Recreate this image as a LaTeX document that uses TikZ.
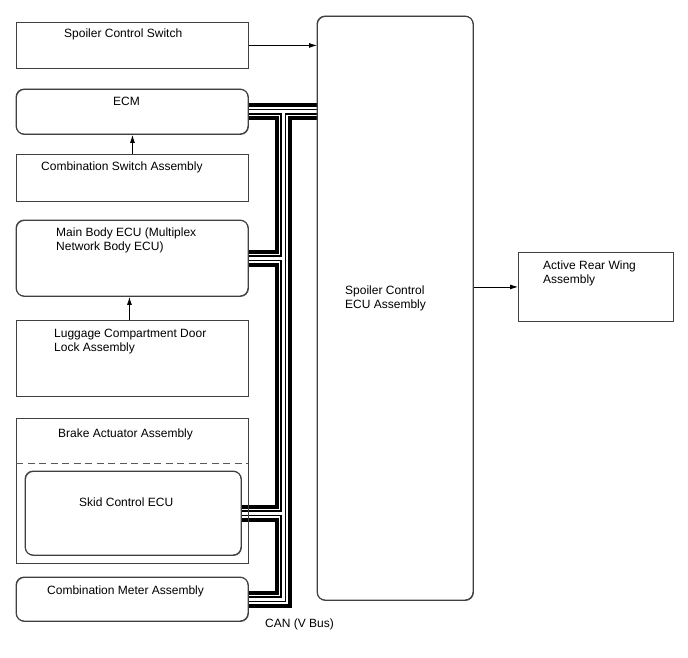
\documentclass[tikz,border=0pt]{standalone}
\usepackage{fontspec}
\setmainfont{Liberation Sans}
\usetikzlibrary{arrows.meta}
\begin{document}
\begin{tikzpicture}[x=1pt,y=-1pt,
  box/.style={draw=black!75, line width=0.9pt, inner sep=0pt, anchor=north west},
  rbox/.style={box, rounded corners=8pt},
  lbl/.style={anchor=base west, inner sep=0pt, font=\fontsize{12}{14}\selectfont},
  arr/.style={-{Latex[length=8pt,width=5pt]}, line width=0.8pt, draw=black},
  outl/.style={draw=black!75, line width=0.9pt},
  ]
\useasboundingbox (0,0) rectangle (688,658);

% ---- boxes (shapes only, no text) ----
\node[box,  minimum width=232pt, minimum height=46pt] (sw)   at (16,22)  {};
\node[rbox, minimum width=232pt, minimum height=45pt] (ecm)  at (16,89)  {};
\node[box,  minimum width=232pt, minimum height=47pt] (csw)  at (16,154) {};
\node[rbox, minimum width=232pt, minimum height=76pt] (mb)   at (16,220) {};
\node[box,  minimum width=232pt, minimum height=76pt] (lug)  at (16,320) {};
\node[box,  minimum width=232pt, minimum height=145pt] (brk) at (16,418) {};
\node[rbox, minimum width=216pt, minimum height=84pt] (skid) at (25,471) {};
\node[rbox, minimum width=232pt, minimum height=44pt] (cm)   at (16,577) {};
\node[rbox, minimum width=156pt, minimum height=584pt] (secu) at (317,16) {};
\node[box,  minimum width=155pt, minimum height=69pt] (arw)  at (518,252) {};

% ---- CAN bus (layered strokes) ----
\coordinate (tr) at (283,0);
\coordinate (bj) at (ecm.east -| tr);
\coordinate (bc) at (cm.east -| tr);
\foreach \w/\c in {17/black, 9/white, 6/black, 3/white} {
  \draw[line width=\w pt, draw=\c, line join=miter, line cap=butt]
    (ecm.east) -- (ecm.east -| secu.west)
    (bj) -- (bc) -- (cm.east)
    (mb.east) -- (mb.east -| tr)
    (skid.east) -- (skid.east -| tr);
}

% redraw box outlines on top
\draw[outl] (16,22) rectangle (248,68);
\draw[outl, rounded corners=8pt] (16,89) rectangle (248,134);
\draw[outl, rounded corners=8pt] (16,220) rectangle (248,296);
\draw[outl] (16,418) rectangle (248,563);
\draw[outl, rounded corners=8pt] (25,471) rectangle (241,555);
\draw[outl, rounded corners=8pt] (16,577) rectangle (248,621);
\draw[outl, rounded corners=8pt] (317,16) rectangle (473,600);

% dashed divider in brake actuator
\coordinate (dl) at (16,463);
\coordinate (dr) at (248,463);
\draw[draw=black!65, line width=0.9pt, dash pattern=on 7pt off 4.5pt] (dl) -- (dr);

% ---- arrows ----
\draw[arr] (sw.east) -- (sw.east -| secu.west);
\draw[arr] (csw.north) -- (ecm.south);
\draw[arr] ([xshift=-3pt]lug.north) -- ([xshift=-3pt]lug.north |- mb.south);
\draw[arr] (arw.west -| secu.east) -- (arw.west);

% ---- labels ----
\node[lbl] (t1) at (64,38) {Spoiler Control Switch};
\node[lbl] (t2) at (113,106) {ECM};
\node[lbl] (t3) at (41,171) {Combination Switch Assembly};
\node[lbl] (t4a) at (56,236) {Main Body ECU (Multiplex};
\node[lbl] (t4b) at (56,250) {Network Body ECU)};
\node[lbl] (t5a) at (54,337) {Luggage Compartment Door};
\node[lbl] (t5b) at (54,351) {Lock Assembly};
\node[lbl] (t6) at (58,437) {Brake Actuator Assembly};
\node[lbl] (t7) at (79,506) {Skid Control ECU};
\node[lbl] (t8) at (47,594) {Combination Meter Assembly};
\node[lbl] (t9a) at (345,294) {Spoiler Control};
\node[lbl] (t9b) at (345,308) {ECU Assembly};
\node[lbl] (t10a) at (543,269) {Active Rear Wing};
\node[lbl] (t10b) at (543,283) {Assembly};
\node[lbl] (t11) at (265,627) {CAN (V Bus)};
\end{tikzpicture}
\end{document}
